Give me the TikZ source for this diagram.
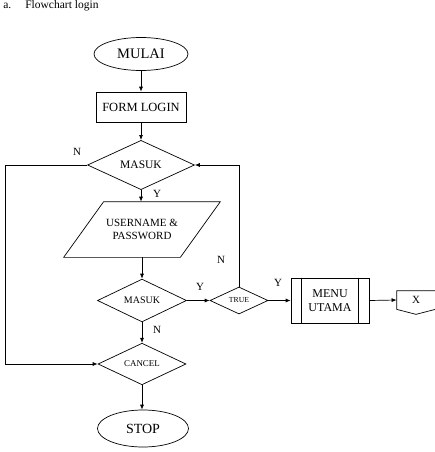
\documentclass[tikz,border=0pt]{standalone}
\usepackage{fontspec}
\setmainfont{Liberation Serif}
\usetikzlibrary{shapes.geometric,arrows.meta}

\begin{document}
\begin{tikzpicture}[x=1pt,y=-1pt,line width=0.7pt,
    flow/.style={-{Latex[length=5pt,width=4pt]}},
    terminal/.style={draw,ellipse,inner sep=0pt},
    proses/.style={draw,rectangle,inner sep=0pt},
    keputusan/.style={draw,diamond,inner sep=0pt},
    label/.style={inner sep=0pt,font=\fontsize{11}{13}\selectfont}]
    \useasboundingbox (0,0) rectangle (434,452);
    % Judul
    \node[anchor=base west,inner sep=0pt,font=\fontsize{11.5}{13}\selectfont] (huruf) at (3,8.5) {a.};
    \node[anchor=base west,inner sep=0pt,font=\fontsize{11.5}{13}\selectfont] (judul) at (25,8.5) {Flowchart login};
    % Mulai
    \node[terminal,minimum width=94,minimum height=33,font=\fontsize{14.5}{16}\selectfont] (mulai) at (141,54) {MULAI};
    \node[proses,minimum width=90,minimum height=30,font=\fontsize{12.5}{14}\selectfont] (form) at (141,107) {FORM LOGIN};
    \draw[flow] (mulai) -- (form);
    % Masuk pertama
    \node[keputusan,minimum width=107,minimum height=36,font=\fontsize{11.5}{13}\selectfont] (masuk) at (141,165) {MASUK};
    \draw[flow] (form) -- (masuk);
    % Input username dan password
    \node[inner sep=0pt,minimum width=116,minimum height=55,align=center,font=\fontsize{11}{13.5}\selectfont] (user) at (142,229.5) {USERNAME \&\\PASSWORD};
    \draw ([xshift=20]user.north west) -- ([xshift=20]user.north east) -- ([xshift=-20]user.south east) -- ([xshift=-20]user.south west) -- cycle;
    \draw[flow] (masuk.south) -- (masuk.south |- user.north);
    \node[label] (ya1) at (157,194) {Y};
    % Masuk kedua
    \node[keputusan,minimum width=89,minimum height=37,font=\fontsize{10}{12}\selectfont] (masukb) at (142,300.5) {MASUK};
    \draw[flow] (masukb.north |- user.south) -- (masukb.north);
    % Cek true
    \node[keputusan,minimum width=58,minimum height=27,font=\fontsize{7.7}{9}\selectfont] (cek) at (239,300.5) {TRUE};
    \draw[flow] (masukb.east) -- (cek.west);
    \node[label] (ya2) at (200,287) {Y};
    \draw[flow] (cek.north) |- (masuk.east);
    \node[label] (tidak2) at (221,260) {N};
    % Menu utama
    \node[proses,minimum width=78,minimum height=45,align=center,font=\fontsize{12}{14.7}\selectfont] (menu) at (330,300.5) {MENU\\UTAMA};
    \draw ([xshift=11]menu.north west) -- ([xshift=11]menu.south west);
    \draw ([xshift=-11]menu.north east) -- ([xshift=-11]menu.south east);
    \draw[flow] (cek.east) -- (menu.west);
    \node[label] (ya3) at (278,283) {Y};
    % Konektor X
    \node[inner sep=0pt,minimum width=38,minimum height=18,font=\fontsize{11}{13}\selectfont] (xcon) at (416,300) {X};
    \draw (xcon.north west) -- (xcon.north east) -- (xcon.south east) -- ([yshift=-5pt]xcon.south) -- (xcon.south west) -- cycle;
    \draw[flow] (menu.east) -- (xcon.west);
    % Cancel
    \node[keputusan,minimum width=88,minimum height=37,font=\fontsize{8.9}{10}\selectfont] (cancel) at (142,364) {CANCEL};
    \draw[flow] (masukb.south) -- (cancel.north);
    \node[label] (tidak3) at (157,330) {N};
    \coordinate (kiri) at (5,165);
    \draw[flow] (masuk.west) -- (kiri) |- (cancel.west);
    \node[label] (tidak1) at (77,152) {N};
    % Stop
    \node[terminal,minimum width=91,minimum height=37,font=\fontsize{14}{16}\selectfont] (stop) at (143,428.5) {STOP};
    \draw[flow] (cancel.south) -- (stop.north -| cancel.south);
\end{tikzpicture}
\end{document}
